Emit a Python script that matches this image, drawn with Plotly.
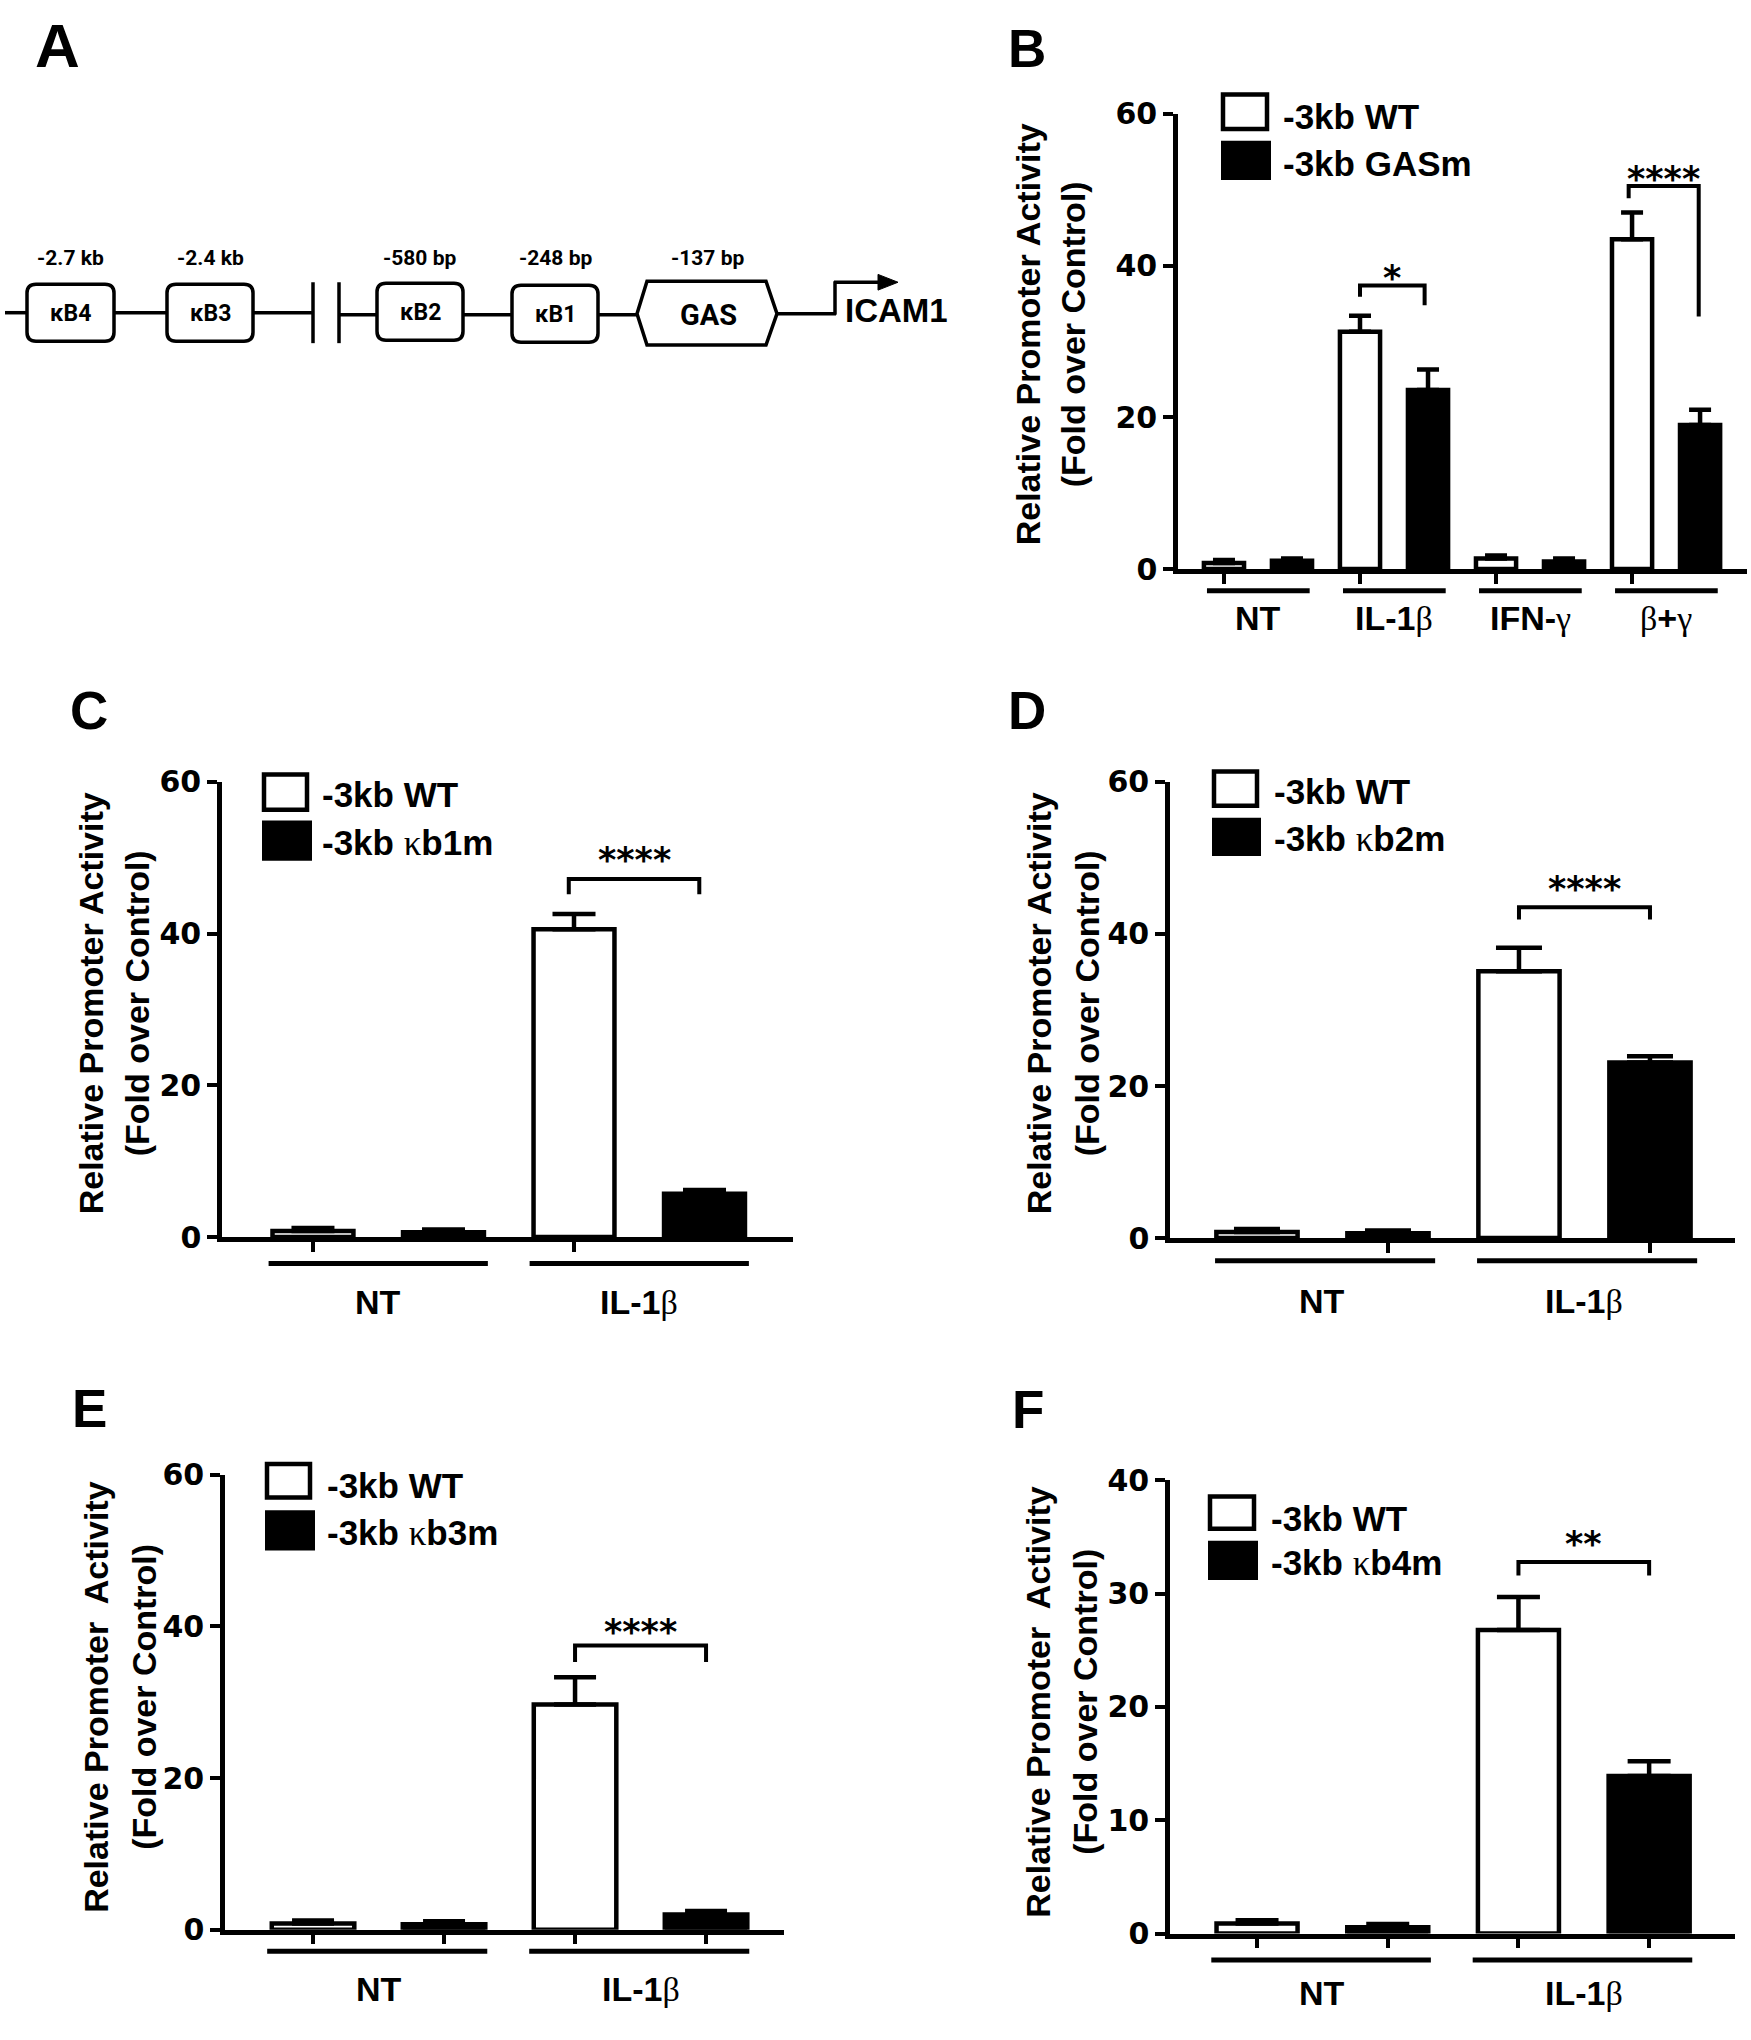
import plotly.graph_objects as go

W, H = 1751, 2040

# ---------------- data ----------------
B_groups = ["NT", "IL-1β", "IFN-γ", "β+γ"]
B_series = ["-3kb WT", "-3kb GASm"]
B_wt = [0.8, 31.3, 1.4, 43.5]
B_wt_sem = [0.4, 2.1, 0.4, 3.5]
B_mut = [1.1, 23.6, 1.0, 19.0]
B_mut_sem = [0.3, 2.7, 0.4, 2.0]

CF_groups = ["NT", "IL-1β"]

C_series = ["-3kb WT", "-3kb κb1m"]
C_wt = [0.8, 40.6]
C_wt_sem = [0.4, 2.0]
C_mut = [0.65, 5.7]
C_mut_sem = [0.35, 0.5]

D_series = ["-3kb WT", "-3kb κb2m"]
D_wt = [0.8, 35.1]
D_wt_sem = [0.4, 3.1]
D_mut = [0.65, 23.1]
D_mut_sem = [0.35, 0.8]

E_series = ["-3kb WT", "-3kb κb3m"]
E_wt = [0.8, 29.7]
E_wt_sem = [0.4, 3.6]
E_mut = [0.7, 2.0]
E_mut_sem = [0.4, 0.45]

F_series = ["-3kb WT", "-3kb κb4m"]
F_wt = [0.9, 26.8]
F_wt_sem = [0.27, 2.9]
F_mut = [0.55, 13.9]
F_mut_sem = [0.3, 1.3]

yticks_60 = [0, 20, 40, 60]
yticks_40 = [0, 10, 20, 30, 40]

title_line1 = "Relative Promoter Activity"
title_line1_wide = "Relative Promoter\u00a0 Activity"
title_line2 = "(Fold over Control)"

# promoter diagram text (panel A)
A_sites = ["κB4", "κB3", "κB2", "κB1"]
A_positions = ["-2.7 kb", "-2.4 kb", "-580 bp", "-248 bp", "-137 bp"]

# ---------------- helpers ----------------
SANS = "Liberation Sans"
SERIF = "Liberation Serif"
TICKF = "DejaVu Sans"
STARF = "DejaVu Sans"


def px(x):
    return x / W


def py(y):
    return 1 - y / H


def greek(s):
    out = ""
    for ch in s:
        if ch in "βγκ":
            out += "<span style='font-family:%s;font-weight:normal'>%s</span>" % (SERIF, ch)
        else:
            out += ch
    return out


fig = go.Figure()
shapes = []
annotations = []
layout_axes = {}


def ann(text, x, y, size, family=SANS, bold=True, xanchor="center", yanchor="middle",
        xref="paper", yref="paper", angle=0):
    annotations.append(dict(text=text, x=x, y=y, xref=xref, yref=yref, showarrow=False,
                            xanchor=xanchor, yanchor=yanchor, textangle=angle,
                            font=dict(family=family, size=size, color="black",
                                      weight="bold" if bold else "normal")))


def add_panel(n, groups, series, wt, wt_sem, mut, mut_sem, cfg):
    xa = "x" if n == 1 else "x%d" % n
    ya = "y" if n == 1 else "y%d" % n
    ng = len(groups)
    x_wt = [2 * i for i in range(ng)]
    x_mut = [2 * i + 1 for i in range(ng)]
    fig.add_trace(go.Bar(
        x=x_wt, y=wt, width=cfg["bw"], name=series[0], xaxis=xa, yaxis=ya,
        marker=dict(color="white", line=dict(color="black", width=4.5)),
        error_y=dict(type="data", array=wt_sem, arrayminus=[0] * ng, symmetric=False,
                     color="black", thickness=4.5, width=cfg["cap"]),
        showlegend=False))
    fig.add_trace(go.Bar(
        x=x_mut, y=mut, width=cfg["bw"], name=series[1], xaxis=xa, yaxis=ya,
        marker=dict(color="black", line=dict(color="black", width=4.5)),
        error_y=dict(type="data", array=mut_sem, arrayminus=[0] * ng, symmetric=False,
                     color="black", thickness=4.5, width=cfg["cap"]),
        showlegend=False))

    xkey = "xaxis" if n == 1 else "xaxis%d" % n
    ykey = "yaxis" if n == 1 else "yaxis%d" % n
    layout_axes[xkey] = dict(
        domain=[px(cfg["left"]), px(cfg["right"])], range=cfg["xr"], anchor=ya,
        showline=True, linewidth=4.5, linecolor="black", ticks="outside",
        tickmode="array", tickvals=cfg["xticks"], ticklen=10, tickwidth=4,
        tickcolor="black", showticklabels=False, showgrid=False, zeroline=False)
    layout_axes[ykey] = dict(
        domain=[py(cfg["y0"]), py(cfg["ytop"])], range=[0, cfg["ymax"]], anchor=xa,
        showline=True, linewidth=4.5, linecolor="black", ticks="outside",
        tickmode="array", tickvals=cfg["yticks"], ticklen=10, tickwidth=4,
        tickcolor="black", showgrid=False, zeroline=False,
        tickfont=dict(family=TICKF, size=30, color="black", weight="bold"))

    # group underlines + labels
    for g, name in enumerate(groups):
        shapes.append(dict(type="line", xref=xa, yref="paper",
                           x0=2 * g + cfg["ul"][0], x1=2 * g + cfg["ul"][1],
                           y0=py(cfg["ul_y"]), y1=py(cfg["ul_y"]),
                           line=dict(color="black", width=5)))
        ann(greek(name), 2 * g + 0.5, py(cfg["lab_y"]), 34, xref=xa)

    # significance brackets
    scale = (cfg["y0"] - cfg["ytop"]) / cfg["ymax"]
    for (bx0, bx1, ytopv, yl, yr, txt, off) in cfg["brackets"]:
        shapes.append(dict(type="path", xref=xa, yref=ya,
                           path="M %f,%f L %f,%f L %f,%f L %f,%f" % (bx0, yl, bx0, ytopv, bx1, ytopv, bx1, yr),
                           line=dict(color="black", width=4)))
        top_px = cfg["y0"] - ytopv * scale
        glyph_center = top_px - off
        ann(txt, (bx0 + bx1) / 2, py(glyph_center + 0.2 * 35), 35, family=STARF, xref=xa)

    # axis title (two lines)
    ann(cfg["t1"], px(cfg["title_x"][0]), py(cfg["title_y"]), 34, angle=-90)
    ann(title_line2, px(cfg["title_x"][1]), py(cfg["title_y"]), 34, angle=-90)

    # legend
    (b1, b2) = cfg["leg_boxes"]
    shapes.append(dict(type="rect", xref="paper", yref="paper",
                       x0=px(b1[0] + 2), x1=px(b1[2] - 2), y0=py(b1[1] + 2), y1=py(b1[3] - 2),
                       fillcolor="white", line=dict(color="black", width=4.5)))
    shapes.append(dict(type="rect", xref="paper", yref="paper",
                       x0=px(b2[0]), x1=px(b2[2]), y0=py(b2[1]), y1=py(b2[3]),
                       fillcolor="black", line=dict(color="black", width=0)))
    ann(greek(series[0]), px(cfg["leg_tx"]), py(cfg["leg_ty"][0]), 35, xanchor="left")
    ann(greek(series[1]), px(cfg["leg_tx"]), py(cfg["leg_ty"][1]), 35, xanchor="left")

    # panel letter
    letter, lx, ly = cfg["letter"]
    ann(letter, px(lx), py(ly), 53, xanchor="left")


cfgB = dict(left=1178, right=1747, y0=561, ytop=97.7, ymax=60, xr=[-0.676, 7.69], bw=0.59, cap=11,
            xticks=[0, 2, 4, 6], yticks=yticks_60, ul=(-0.25, 1.26), ul_y=583, lab_y=611,
            t1=title_line1, title_x=(1028, 1073), title_y=322,
            leg_boxes=((1221, 76, 1269, 115), (1221, 125, 1271, 165)), leg_tx=1281, leg_ty=(100, 148),
            letter=("B", 1006, 31.5),
            brackets=[(2.0, 2.95, 37.4, 35.9, 34.8, "*", 15),
                      (5.95, 6.98, 50.5, 48.9, 33.3, "****", 14.5)])
cfgC = dict(left=222, right=793, y0=1241, ytop=777.7, ymax=60, xr=[-0.697, 3.678], bw=0.62, cap=21.5,
            xticks=[0, 2], yticks=yticks_60, ul=(-0.34, 1.34), ul_y=1268, lab_y=1307,
            t1=title_line1, title_x=(91, 137), title_y=1003,
            leg_boxes=((262, 768, 309, 808), (262, 817, 312, 858)), leg_tx=320, leg_ty=(790, 840),
            letter=("C", 68, 705),
            brackets=[(1.96, 2.96, 47.2, 45.2, 45.2, "****", 26)])
cfgD = dict(left=1170, right=1735, y0=1242, ytop=777.6, ymax=60, xr=[-0.664, 3.649], bw=0.62, cap=23,
            xticks=[1, 3], yticks=yticks_60, ul=(-0.32, 1.36), ul_y=1265, lab_y=1306,
            t1=title_line1, title_x=(1039, 1087), title_y=1003,
            leg_boxes=((1212, 765, 1259, 804), (1212, 814, 1261, 853)), leg_tx=1272, leg_ty=(787, 836),
            letter=("D", 1006, 705),
            brackets=[(2.0, 3.0, 43.5, 41.9, 41.9, "****", 26)])
cfgE = dict(left=225, right=784, y0=1946, ytop=1483, ymax=60, xr=[-0.672, 3.595], bw=0.63, cap=21,
            xticks=[0, 1, 2, 3], yticks=yticks_60, ul=(-0.35, 1.33), ul_y=1968, lab_y=2006,
            t1=title_line1_wide, title_x=(96, 144), title_y=1709,
            leg_boxes=((265, 1470, 312, 1508), (265, 1519, 315, 1560)), leg_tx=325, leg_ty=(1494, 1542),
            letter=("E", 70, 1415),
            brackets=[(2.0, 3.0, 37.5, 35.3, 35.3, "****", 21)])
cfgF = dict(left=1170, right=1735, y0=1950, ytop=1488.6, ymax=40, xr=[-0.666, 3.657], bw=0.62, cap=21.5,
            xticks=[0, 1, 2, 3], yticks=yticks_40, ul=(-0.35, 1.33), ul_y=1977, lab_y=2010,
            t1=title_line1_wide, title_x=(1038, 1085), title_y=1714,
            leg_boxes=((1208, 1503, 1256, 1540), (1208, 1550, 1258, 1590)), leg_tx=1269, leg_ty=(1527, 1573),
            letter=("F", 1010, 1416),
            brackets=[(2.0, 3.0, 32.8, 31.6, 31.6, "**", 25)])

add_panel(1, B_groups, B_series, B_wt, B_wt_sem, B_mut, B_mut_sem, cfgB)
add_panel(2, CF_groups, C_series, C_wt, C_wt_sem, C_mut, C_mut_sem, cfgC)
add_panel(3, CF_groups, D_series, D_wt, D_wt_sem, D_mut, D_mut_sem, cfgD)
add_panel(4, CF_groups, E_series, E_wt, E_wt_sem, E_mut, E_mut_sem, cfgE)
add_panel(5, CF_groups, F_series, F_wt, F_wt_sem, F_mut, F_mut_sem, cfgF)

# ---------------- panel A: promoter diagram ----------------
ann("A", px(33), py(28), 62, xanchor="left")
DIAG = "Roboto"
LW = 3.5


def pline(x0, y0, x1, y1, w=LW):
    shapes.append(dict(type="line", xref="paper", yref="paper", x0=px(x0), y0=py(y0),
                       x1=px(x1), y1=py(y1), line=dict(color="black", width=w)))


for (a, b) in [((5, 300), (27, 300)), ((114, 300), (167, 300)), ((253, 300), (313, 300)),
               ((339, 302), (377, 302)), ((463, 302), (512, 302)), ((598, 302), (637, 302)),
               ((777, 301), (836, 301)), ((835, 302), (835, 268)), ((834, 269), (882, 269))]:
    pline(a[0], a[1], b[0], b[1])
pline(313, 269, 313, 331)
pline(339, 269, 339, 331)


def rrect(x0, y0, x1, y1, r=9):
    P = lambda x, y: "%f,%f" % (px(x), py(y))
    return ("M " + P(x0 + r, y0) + " L " + P(x1 - r, y0) + " Q " + P(x1, y0) + " " + P(x1, y0 + r) +
            " L " + P(x1, y1 - r) + " Q " + P(x1, y1) + " " + P(x1 - r, y1) +
            " L " + P(x0 + r, y1) + " Q " + P(x0, y1) + " " + P(x0, y1 - r) +
            " L " + P(x0, y0 + r) + " Q " + P(x0, y0) + " " + P(x0 + r, y0) + " Z")


boxes = [(27, 271, 114, 329), (167, 271, 253, 329), (377, 270, 463, 328), (512, 272, 598, 330)]
for (bx, name) in zip(boxes, A_sites):
    shapes.append(dict(type="path", xref="paper", yref="paper", path=rrect(*bx),
                       fillcolor="white", line=dict(color="black", width=LW)))
    ann(name, px((bx[0] + bx[2]) / 2), py((bx[1] + bx[3]) / 2 + 1), 23, family=DIAG)

hexpts = [(637, 301), (647, 268), (766, 268), (777, 301), (766, 333), (647, 333)]
shapes.append(dict(type="path", xref="paper", yref="paper",
                   path="M " + " L ".join("%f,%f" % (px(x), py(y)) for x, y in hexpts) + " Z",
                   fillcolor="white", line=dict(color="black", width=LW)))
ann("GAS", px(708), py(302), 29, family=DIAG)

arrow = [(878, 261), (898, 269), (878, 277)]
shapes.append(dict(type="path", xref="paper", yref="paper",
                   path="M " + " L ".join("%f,%f" % (px(x), py(y)) for x, y in arrow) + " Z",
                   fillcolor="black", line=dict(color="black", width=1)))
ann("ICAM1", px(843), py(298), 33, xanchor="left")

for (lab, cx) in zip(A_positions, [70, 210, 419, 555, 707]):
    ann(lab, px(cx), py(244), 21, family=DIAG)

fig.update_layout(
    width=W, height=H, margin=dict(l=0, r=0, t=0, b=0),
    paper_bgcolor="white", plot_bgcolor="rgba(0,0,0,0)",
    showlegend=False, barmode="overlay",
    shapes=shapes, annotations=annotations, **layout_axes)

post = ("document.documentElement.style.margin='0';document.body.style.margin='0';"
        "document.body.style.padding='0';document.body.style.overflow='hidden';"
        "var d=document.querySelector('.plotly-graph-div');"
        "if(d){d.style.position='absolute';d.style.left='0px';d.style.top='0px';}"
        "window.scrollTo(0,0);")
fig.write_html("out.html", post_script=post, config={"displayModeBar": False})
